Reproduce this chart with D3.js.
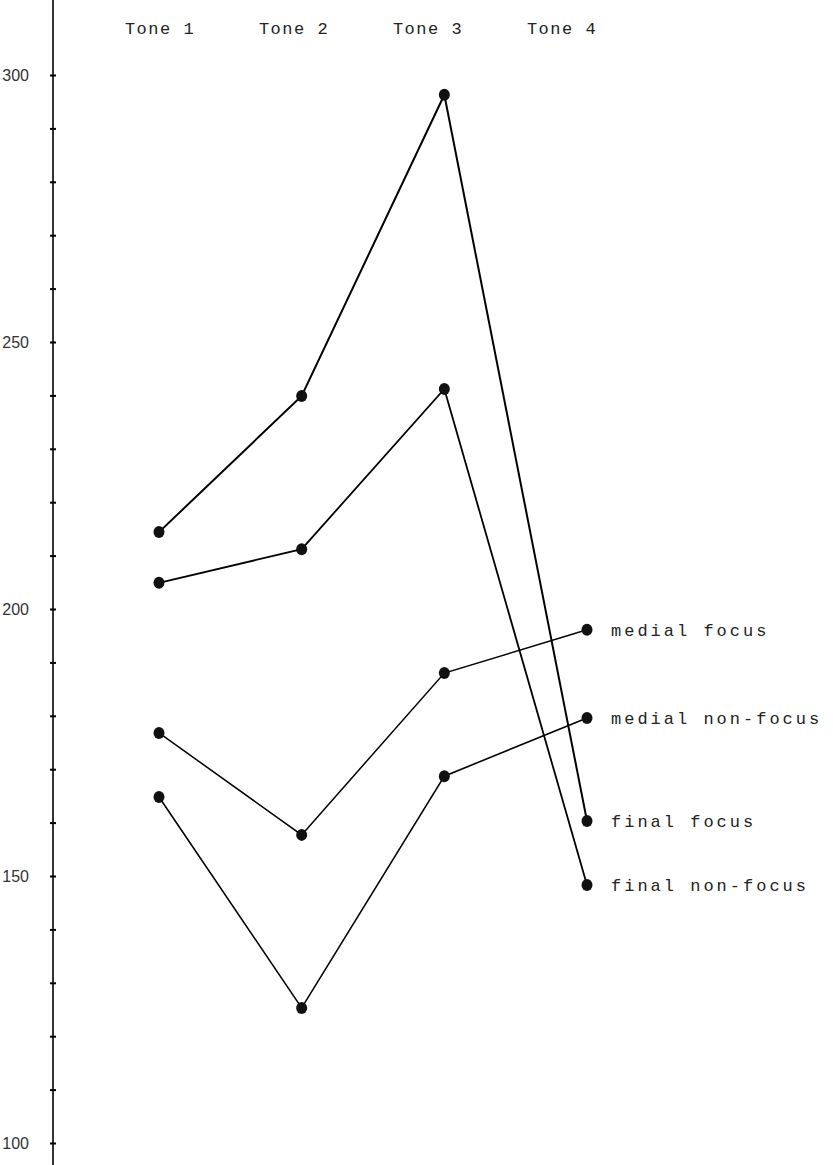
<!DOCTYPE html>
<html>
<head>
<meta charset="utf-8">
<script src="https://cdn.jsdelivr.net/npm/d3@7"></script>
<style>
  html, body { margin: 0; padding: 0; background: #fff; }
  svg { display: block; }
</style>
</head>
<body>
<svg id="chart" width="833" height="1165"></svg>
<script>
// ---- data ----
const tones = ["Tone 1", "Tone 2", "Tone 3", "Tone 4"];
const seriesNames = ["final focus", "final non-focus", "medial focus", "medial non-focus"];
const finalFocus = [214.4, 239.9, 296.3, 160.3];
const finalNonFocus = [204.9, 211.2, 241.2, 148.3];
const medialFocus = [176.8, 157.7, 188.0, 196.1];
const medialNonFocus = [164.8, 125.3, 168.7, 179.6];
const yTickValues = d3.range(100, 301, 10);
const yTickLabels = [100, 150, 200, 250, 300];

const seriesValues = [finalFocus, finalNonFocus, medialFocus, medialNonFocus];
const seriesWidths = [2, 1.8, 1.5, 1.6];

// ---- layout ----
const W = 833, H = 1165;
const axisX = 53;
const svg = d3.select("#chart");

const y = d3.scaleLinear().domain([100, 300]).range([1143, 75]);
const x = d3.scaleLinear().domain([0, 3]).range([159, 587]);
const xHead = d3.scaleLinear().domain([0, 3]).range([160, 562]);

// axis line
svg.append("line")
  .attr("x1", axisX).attr("x2", axisX)
  .attr("y1", 0).attr("y2", H)
  .attr("stroke", "#000").attr("stroke-width", 1.6);

// ticks via d3 axis
const axisG = svg.append("g").attr("transform", `translate(${axisX},0)`)
  .call(d3.axisRight(y).tickValues(yTickValues).tickSize(3).tickFormat(""));
axisG.select(".domain").remove();
axisG.selectAll(".tick line").attr("x1", -3).attr("x2", 3)
  .attr("stroke", "#000").attr("stroke-width", 2);

// tick labels
svg.append("g").selectAll("text").data(yTickLabels).join("text")
  .attr("x", axisX - 24).attr("y", d => y(d))
  .attr("dy", "0.35em")
  .attr("text-anchor", "end")
  .attr("font-family", "Liberation Sans, Arial, sans-serif")
  .attr("font-size", 16)
  .attr("fill", "#333")
  .text(d => d);

// tone headers
svg.append("g").selectAll("text").data(tones).join("text")
  .attr("x", (d, i) => xHead(i)).attr("y", 34)
  .attr("text-anchor", "middle")
  .attr("font-family", "Liberation Mono, Courier New, monospace")
  .attr("font-size", 17)
  .attr("letter-spacing", 1.5)
  .attr("fill", "#222")
  .text(d => d);

// lines
const line = d3.line().x((d, i) => x(i)).y(d => y(d));
svg.append("g").selectAll("path").data(seriesValues).join("path")
  .attr("d", d => line(d))
  .attr("fill", "none")
  .attr("stroke", "#000")
  .attr("stroke-width", (d, i) => seriesWidths[i]);

// points
seriesValues.forEach((vals, si) => {
  svg.append("g").selectAll("ellipse").data(vals).join("ellipse")
    .attr("cx", (d, i) => x(i)).attr("cy", d => y(d))
    .attr("rx", 5.5).attr("ry", 6)
    .attr("fill", "#111");
});

// series labels
svg.append("g").selectAll("text").data(seriesNames).join("text")
  .attr("x", x(3) + 24)
  .attr("y", (d, i) => y(seriesValues[i][3]))
  .attr("dy", "0.35em")
  .attr("font-family", "Liberation Mono, Courier New, monospace")
  .attr("font-size", 17)
  .attr("letter-spacing", 3)
  .attr("fill", "#222")
  .text(d => d);
</script>
</body>
</html>
